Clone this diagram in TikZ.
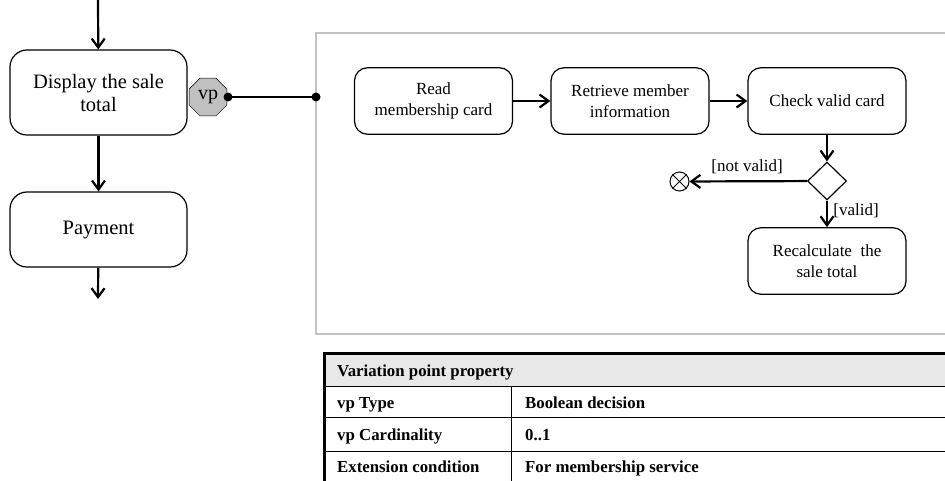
\documentclass[tikz,border=0pt]{standalone}
\usepackage{fontspec}
\setmainfont{Liberation Serif}
\usetikzlibrary{arrows.meta,shapes.geometric}
\definecolor{vpgray}{RGB}{192,192,192}
\definecolor{framegray}{RGB}{195,195,195}
\definecolor{headgray}{RGB}{232,232,232}
\tikzstyle{bigaction} = [draw, line width=1.2pt, rounded corners=17pt, align=center, minimum width=177pt, font=\fontsize{20.5}{23}\selectfont]
\tikzstyle{action} = [draw, line width=1.2pt, rounded corners=13pt, align=center, minimum width=158pt, minimum height=66.5pt, font=\fontsize{17}{21.5}\selectfont]
\tikzstyle{line} = [draw, line width=2.2pt, -{Straight Barb[length=9pt,width=13pt,line width=2.2pt]}]
\tikzstyle{guard} = [font=\fontsize{17}{19}\selectfont, inner sep=1pt]
\tikzstyle{cell} = [anchor=base west, inner sep=0pt, font=\fontsize{16.8}{19}\selectfont\bfseries]

\begin{document}
\begin{tikzpicture}[x=1pt,y=-1pt]
    \useasboundingbox (0,0) rectangle (945,480);

        % main flow
        \coordinate (start) at (98,0);
        \node[bigaction,minimum height=85pt] (display) at (98.5,92.5) {Display the sale\\total};
        \node[bigaction,minimum height=75pt] (payment) at (98.5,229.5) {Payment};
        \coordinate (stop) at (98,299);
        \path[line] (start) -- (display);
        \path[line] (display) -- (payment);
        \path[line] (payment) -- (stop);

        % variation point
        \node[draw,fill=vpgray,regular polygon,regular polygon sides=8,minimum size=41pt,inner sep=0pt,font=\fontsize{20}{20}\selectfont] (vp) at (208,97) {vp};
        \node[draw,framegray,line width=2pt,minimum width=640pt,minimum height=301pt,anchor=north west,inner sep=0pt] (frame) at (315,31.5) {};
        \coordinate (vpout) at (228,97);
        \coordinate (framein) at (316,97);
        \draw[line width=2pt] (vpout) -- (framein);
        \fill (vpout) circle (4.5pt);
        \fill (framein) circle (4.5pt);

        % variant fragment
        \node[action] (read) at (433.5,101) {Read\\membership card};
        \node[action] (retrieve) at (630,101) {Retrieve member\\information};
        \node[action] (check) at (827,101) {Check valid card};
        \node[draw,diamond,line width=1.2pt,minimum width=39pt,minimum height=38pt,inner sep=0pt] (decide) at (827,181) {};
        \node[draw,circle,line width=1pt,minimum size=19pt,inner sep=0pt] (flowend) at (679.5,181.5) {};
        \draw[line width=1pt] (flowend.north east) -- (flowend.south west);
        \draw[line width=1pt] (flowend.north west) -- (flowend.south east);
        \node[action] (recalc) at (827,261) {Recalculate~ the\\sale total};
        \path[line] (read) -- (retrieve);
        \path[line] (retrieve) -- (check);
        \path[line] (check) -- (decide);
        \path[line] (decide) -- (flowend);
        \path[line] (decide) -- (recalc);
        \node[guard] (notvalid) at (747,167) {[not valid]};
        \node[guard] (valid) at (856,211) {[valid]};

    % property table
    \fill[headgray] (324,353) rectangle (950,386);
    \draw[line width=1pt] (324,386) -- (950,386);
    \draw[line width=1pt] (324,417.5) -- (950,417.5);
    \draw[line width=1pt] (324,451) -- (950,451);
    \draw[line width=1pt] (511.5,386) -- (511.5,490);
    \draw[line width=3pt] (950,353.5) -- (324.5,353.5) -- (324.5,490);
  \node[cell] (head) at (337,376) {Variation point property};
  \node[cell] (typekey) at (337,408) {vp Type};
  \node[cell] (typeval) at (525,408) {Boolean decision};
  \node[cell] (cardkey) at (337,440) {vp Cardinality};
  \node[cell] (cardval) at (525,440) {0..1};
  \node[cell] (condkey) at (337,472) {Extension condition};
  \node[cell] (condval) at (525,472) {For membership service};

    \end{tikzpicture}
\end{document}
